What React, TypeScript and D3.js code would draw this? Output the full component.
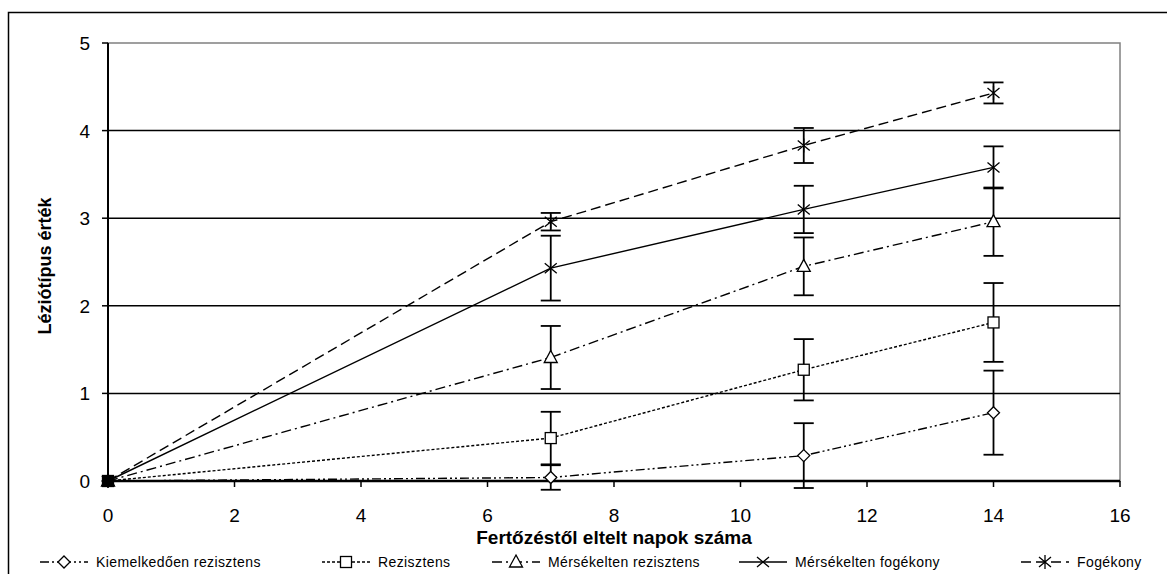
import React from "react";
import * as d3 from "d3";

const days = [0, 7, 11, 14];

const seriesNames = [
  "Kiemelkedően rezisztens",
  "Rezisztens",
  "Mérsékelten rezisztens",
  "Mérsékelten fogékony",
  "Fogékony",
];

const kiemelkedoen = [0, 0.04, 0.29, 0.78];
const kiemelkedoenErr = [0, 0.14, 0.37, 0.48];
const rezisztens = [0, 0.49, 1.27, 1.81];
const rezisztensErr = [0, 0.3, 0.35, 0.45];
const mersRezisztens = [0, 1.41, 2.45, 2.96];
const mersRezisztensErr = [0, 0.36, 0.33, 0.39];
const mersFogekony = [0, 2.43, 3.1, 3.58];
const mersFogekonyErr = [0, 0.37, 0.27, 0.24];
const fogekony = [0, 2.96, 3.83, 4.43];
const fogekonyErr = [0, 0.1, 0.2, 0.12];

const xTicks = [0, 2, 4, 6, 8, 10, 12, 14, 16];
const yTicks = [0, 1, 2, 3, 4, 5];

const W = 1167;
const H = 574;
const margin = { top: 43, right: 47, bottom: 93, left: 108 };
const font = "'Liberation Sans', Arial, sans-serif";

type Marker = "diamond" | "square" | "triangle" | "x" | "star";

const styles: { dash: string; marker: Marker }[] = [
  { dash: "9,3,2,3,2,3", marker: "diamond" },
  { dash: "3,2", marker: "square" },
  { dash: "10,4,2,4", marker: "triangle" },
  { dash: "none", marker: "x" },
  { dash: "10,5", marker: "star" },
];

const values = [kiemelkedoen, rezisztens, mersRezisztens, mersFogekony, fogekony];
const errors = [kiemelkedoenErr, rezisztensErr, mersRezisztensErr, mersFogekonyErr, fogekonyErr];

// x where each legend label starts
const legendTextX = [96, 378, 548, 795, 1077];

function MarkerShape({ type, x, y, fill }: { type: Marker; x: number; y: number; fill: string }) {
  const s = 6;
  const common = { stroke: "#000", strokeWidth: 1.3, fill };
  if (type === "diamond")
    return <path {...common} d={`M${x},${y - s}L${x + s},${y}L${x},${y + s}L${x - s},${y}Z`} />;
  if (type === "square") return <rect {...common} x={x - 5.5} y={y - 5.5} width={11} height={11} />;
  if (type === "triangle")
    return <path {...common} d={`M${x},${y - 7}L${x + 6.5},${y + 5}L${x - 6.5},${y + 5}Z`} />;
  if (type === "x")
    return <path stroke="#000" strokeWidth={1.3} fill="none" d={`M${x - 6},${y - 5}L${x + 6},${y + 5}M${x - 6},${y + 5}L${x + 6},${y - 5}`} />;
  return (
    <path
      stroke="#000"
      strokeWidth={1.3}
      fill="none"
      d={`M${x - 6},${y - 5}L${x + 6},${y + 5}M${x - 6},${y + 5}L${x + 6},${y - 5}M${x},${y - 7}L${x},${y + 7}`}
    />
  );
}

export default function App() {
  const x = d3.scaleLinear().domain([0, 16]).range([margin.left, W - margin.right]);
  const y = d3.scaleLinear().domain([0, 5]).range([H - margin.bottom, margin.top]);
  const line = d3
    .line<number>()
    .x((_, i) => x(days[i]))
    .y((d) => y(d));
  const x0 = x(0);
  const x1 = x(16);
  const y0 = y(0);

  return (
    <svg width={W} height={H} style={{ position: "absolute", left: 0, top: 0, background: "#fff" }}>
      <rect x={8.5} y={12.5} width={1200} height={600} fill="none" stroke="#000" strokeWidth={1.5} />
      {/* plot frame */}
      <rect x={x0} y={y(5)} width={x1 - x0} height={y0 - y(5)} fill="none" stroke="#808080" strokeWidth={1.5} />
      {yTicks.slice(1, 5).map((t) => (
        <line key={t} x1={x0} x2={x1} y1={y(t)} y2={y(t)} stroke="#000" strokeWidth={1.5} />
      ))}
      {/* axes */}
      <line x1={x0} x2={x0} y1={y(5)} y2={y0} stroke="#000" strokeWidth={2} />
      <line x1={x0} x2={x1} y1={y0} y2={y0} stroke="#000" strokeWidth={2.5} />
      {yTicks.map((t) => (
        <g key={t}>
          <line x1={x0 - 6} x2={x0} y1={y(t)} y2={y(t)} stroke="#000" strokeWidth={1.5} />
          <text x={90} y={y(t) + 7} textAnchor="end" fontFamily={font} fontSize={19}>
            {t}
          </text>
        </g>
      ))}
      {xTicks.map((t) => (
        <g key={t}>
          <line x1={x(t)} x2={x(t)} y1={y0} y2={y0 + 6} stroke="#000" strokeWidth={1.5} />
          <text x={x(t)} y={522} textAnchor="middle" fontFamily={font} fontSize={19}>
            {t}
          </text>
        </g>
      ))}
      <text x={614} y={544} textAnchor="middle" fontFamily={font} fontSize={19} fontWeight="bold">
        Fertőzéstől eltelt napok száma
      </text>
      <text
        transform={`translate(51,${(y(5) + y0) / 2 + 4}) rotate(-90)`}
        textAnchor="middle"
        fontFamily={font}
        fontSize={18}
        fontWeight="bold"
      >
        Léziótípus érték
      </text>

      {/* series lines */}
      {values.map((v, i) => (
        <path key={i} d={line(v) || ""} fill="none" stroke="#000" strokeWidth={1.4} strokeDasharray={styles[i].dash} />
      ))}
      {/* error bars */}
      {values.map((v, i) =>
        v.map((d, j) =>
          errors[i][j] > 0 ? (
            <g key={`${i}-${j}`} stroke="#000" strokeWidth={1.8}>
              <line x1={x(days[j])} x2={x(days[j])} y1={y(d + errors[i][j])} y2={y(d - errors[i][j])} />
              <line x1={x(days[j]) - 10} x2={x(days[j]) + 10} y1={y(d + errors[i][j])} y2={y(d + errors[i][j])} />
              <line x1={x(days[j]) - 10} x2={x(days[j]) + 10} y1={y(d - errors[i][j])} y2={y(d - errors[i][j])} />
            </g>
          ) : null
        )
      )}
      {/* markers */}
      {values.map((v, i) =>
        v.map((d, j) => (
          <MarkerShape key={`${i}-${j}`} type={styles[i].marker} x={x(days[j])} y={y(d)} fill={d === 0 ? "#000" : "#fff"} />
        ))
      )}

      {/* legend */}
      {seriesNames.map((name, i) => (
        <g key={name}>
          <line
            x1={legendTextX[i] - 56}
            x2={legendTextX[i] - 8}
            y1={562}
            y2={562}
            stroke="#000"
            strokeWidth={1.3}
            strokeDasharray={styles[i].dash}
          />
          <MarkerShape type={styles[i].marker} x={legendTextX[i] - 32} y={562} fill="#fff" />
          <text x={legendTextX[i]} y={567} fontFamily={font} fontSize={14} letterSpacing={0.4}>
            {name}
          </text>
        </g>
      ))}
    </svg>
  );
}
